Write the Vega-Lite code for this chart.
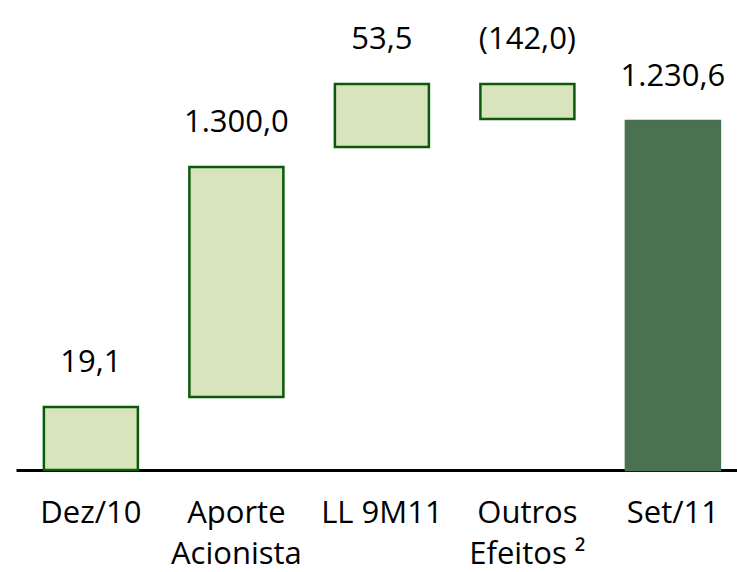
{
  "$schema": "https://vega.github.io/schema/vega-lite/v6.json",
  "width": 721,
  "height": 470,
  "autosize": "none",
  "padding": {"left": 16, "top": 0, "right": 0, "bottom": 102},
  "background": "white",
  "config": {"view": {"stroke": null}, "font": "Open Sans, sans-serif"},
  "data": {
    "values": [
      {"cat": "Dez/10", "start": 0, "end": 63, "label": "19,1", "kind": "total"},
      {"cat": "Aporte|Acionista", "start": 73, "end": 303, "label": "1.300,0", "kind": "delta"},
      {"cat": "LL 9M11", "start": 323, "end": 386, "label": "53,5", "kind": "delta"},
      {"cat": "Outros|Efeitos ²", "start": 351, "end": 386, "label": "(142,0)", "kind": "delta"},
      {"cat": "Set/11", "start": 0, "end": 349, "label": "1.230,6", "kind": "final"}
    ]
  },
  "encoding": {
    "x": {
      "field": "cat", "type": "nominal", "sort": null,
      "scale": {"paddingInner": 0.354, "paddingOuter": 0.1545, "align": 0.62},
      "axis": {
        "title": null, "labelAngle": 0, "ticks": false,
        "domainColor": "black", "domainWidth": 3,
        "labelFont": "Open Sans", "labelFontSize": 31, "labelColor": "black", "labelPadding": 28,
        "labelLineHeight": 41,
        "labelExpr": "split(datum.label, '|')"
      }
    }
  },
  "layer": [
    {
      "mark": {"type": "bar", "strokeWidth": 2.5},
      "encoding": {
        "y": {"field": "start", "type": "quantitative", "scale": {"domain": [0, 470], "nice": false}, "axis": null},
        "y2": {"field": "end"},
        "fill": {"field": "kind", "type": "nominal", "scale": {"domain": ["total", "delta", "final"], "range": ["#d8e4bc", "#d8e4bc", "#4a7150"]}, "legend": null},
        "stroke": {"field": "kind", "type": "nominal", "scale": {"domain": ["total", "delta", "final"], "range": ["#0b5a0b", "#0b5a0b", "#4a7150"]}, "legend": null}
      }
    },
    {
      "mark": {"type": "text", "font": "Open Sans", "fontSize": 31, "baseline": "alphabetic", "dy": -35, "color": "black"},
      "encoding": {
        "y": {"field": "end", "type": "quantitative"},
        "text": {"field": "label"}
      }
    }
  ]
}
